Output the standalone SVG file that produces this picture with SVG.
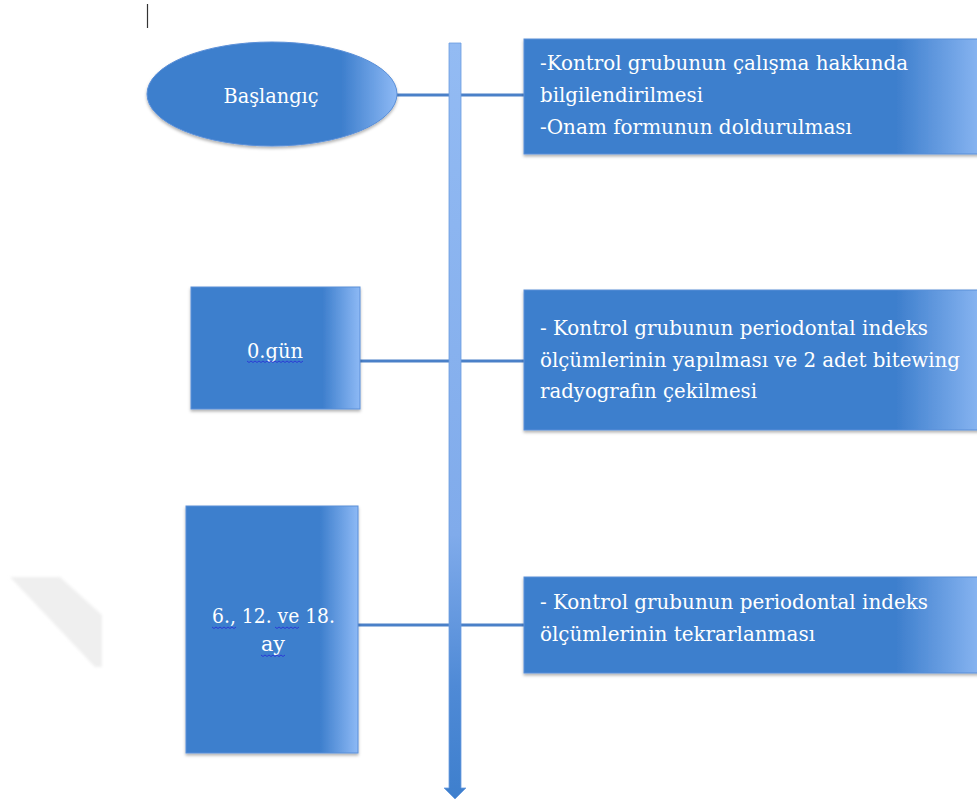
<svg xmlns="http://www.w3.org/2000/svg" width="977" height="804" viewBox="0 0 977 804">
<style>
.t{font-family:"DejaVu Serif","Liberation Serif",serif;font-size:19.5px;fill:#ffffff}
.c{text-anchor:middle}
.box{stroke:#5a8fd8;stroke-width:1;filter:url(#sh)}
.conn{stroke:#4a80c8;stroke-width:3;fill:none}
.sq{stroke:#2a3bd6;stroke-width:1;fill:none}
</style>
<defs>
<linearGradient id="gR" x1="0" y1="0" x2="1" y2="0">
<stop offset="0" stop-color="#3e7fcd"/>
<stop offset="0.81" stop-color="#3e7fcd"/>
<stop offset="1" stop-color="#8bb7f3"/>
</linearGradient>
<linearGradient id="gL" x1="0" y1="0" x2="1" y2="0">
<stop offset="0" stop-color="#3e7fcd"/>
<stop offset="0.78" stop-color="#3e7fcd"/>
<stop offset="1" stop-color="#8db9f5"/>
</linearGradient>
<linearGradient id="gV" x1="0" y1="43" x2="0" y2="799" gradientUnits="userSpaceOnUse">
<stop offset="0" stop-color="#93bbf3"/>
<stop offset="0.65" stop-color="#80abeb"/>
<stop offset="0.85" stop-color="#4f8ad6"/>
<stop offset="1" stop-color="#3e7fcd"/>
</linearGradient>
<filter id="sh" x="-5%" y="-5%" width="110%" height="115%">
<feDropShadow dx="0" dy="2" stdDeviation="1.5" flood-color="#000" flood-opacity="0.3"/>
</filter>
<filter id="bl"><feGaussianBlur stdDeviation="1.5"/></filter>
</defs>

<polygon points="10,577 60,577 102,615 102,667 95,667" fill="#efefef" filter="url(#bl)"/>
<line x1="147.5" y1="4" x2="147.5" y2="28" stroke="#333" stroke-width="1.2"/>

<g id="connectors">
<line class="conn" x1="397" y1="95" x2="524" y2="95"/>
<line class="conn" x1="360" y1="361" x2="524" y2="361"/>
<line class="conn" x1="358" y1="625" x2="524" y2="625"/>
<path d="M449,43 H461 V788 H466 L455,799 L444,788 H449 Z" fill="url(#gV)" stroke="#6b9de0" stroke-width="0.8"/>
</g>

<g id="baslangic">
<ellipse class="box" cx="272" cy="94" rx="125" ry="52" fill="url(#gL)"/>
<text class="t c" x="271" y="103" textLength="95" lengthAdjust="spacingAndGlyphs">Başlangıç</text>
</g>

<g id="gun0">
<rect class="box" x="191" y="287" width="169" height="122" fill="url(#gL)"/>
<text class="t c" x="275" y="358" textLength="56" lengthAdjust="spacingAndGlyphs">0.gün</text>
<path class="sq" d="M247,361 l2,1.5 l2,-1.5 l2,1.5 l2,-1.5 l2,1.5 l2,-1.5 l2,1.5 l2,-1.5 l2,1.5 l2,-1.5 l2,1.5 l2,-1.5 l2,1.5 l2,-1.5 l2,1.5 l2,-1.5 l2,1.5 l2,-1.5 l2,1.5 l2,-1.5 l2,1.5 l2,-1.5 l2,1.5 l2,-1.5 l2,1.5 l2,-1.5 l2,1.5 l2,-1.5"/>
</g>

<g id="ay">
<rect class="box" x="186" y="506" width="172" height="247" fill="url(#gL)"/>
<text class="t c" x="273.5" y="623" textLength="123" lengthAdjust="spacingAndGlyphs">6., 12. ve 18.</text>
<text class="t c" x="273" y="651" textLength="24" lengthAdjust="spacingAndGlyphs">ay</text>
<path class="sq" d="M212,627 l2,1.5 l2,-1.5 l2,1.5 l2,-1.5 l2,1.5 l2,-1.5 l2,1.5 l2,-1.5 l2,1.5 l2,-1.5 l2,1.5 l2,-1.5"/>
<path class="sq" d="M275,627 l2,1.5 l2,-1.5 l2,1.5 l2,-1.5 l2,1.5 l2,-1.5 l2,1.5 l2,-1.5 l2,1.5 l2,-1.5 l2,1.5 l2,-1.5"/>
<path class="sq" d="M261,655 l2,1.5 l2,-1.5 l2,1.5 l2,-1.5 l2,1.5 l2,-1.5 l2,1.5 l2,-1.5 l2,1.5 l2,-1.5 l2,1.5 l2,-1.5"/>
</g>

<g id="info1">
<rect class="box" x="524" y="39" width="460" height="115" fill="url(#gR)"/>
<text class="t" x="540" y="70" textLength="368" lengthAdjust="spacingAndGlyphs">-Kontrol grubunun çalışma hakkında</text>
<text class="t" x="540" y="102" textLength="163" lengthAdjust="spacingAndGlyphs">bilgilendirilmesi</text>
<text class="t" x="540" y="134" textLength="312" lengthAdjust="spacingAndGlyphs">-Onam formunun doldurulması</text>
</g>

<g id="info2">
<rect class="box" x="524" y="290" width="460" height="140" fill="url(#gR)"/>
<text class="t" x="540" y="335" textLength="388" lengthAdjust="spacingAndGlyphs">- Kontrol grubunun periodontal indeks</text>
<text class="t" x="540" y="367" textLength="420" lengthAdjust="spacingAndGlyphs">ölçümlerinin yapılması ve 2 adet bitewing</text>
<text class="t" x="540" y="398" textLength="217" lengthAdjust="spacingAndGlyphs">radyografın çekilmesi</text>
</g>

<g id="info3">
<rect class="box" x="524" y="577" width="460" height="96" fill="url(#gR)"/>
<text class="t" x="540" y="609" textLength="388" lengthAdjust="spacingAndGlyphs">- Kontrol grubunun periodontal indeks</text>
<text class="t" x="540" y="641" textLength="275" lengthAdjust="spacingAndGlyphs">ölçümlerinin tekrarlanması</text>
</g>
</svg>
